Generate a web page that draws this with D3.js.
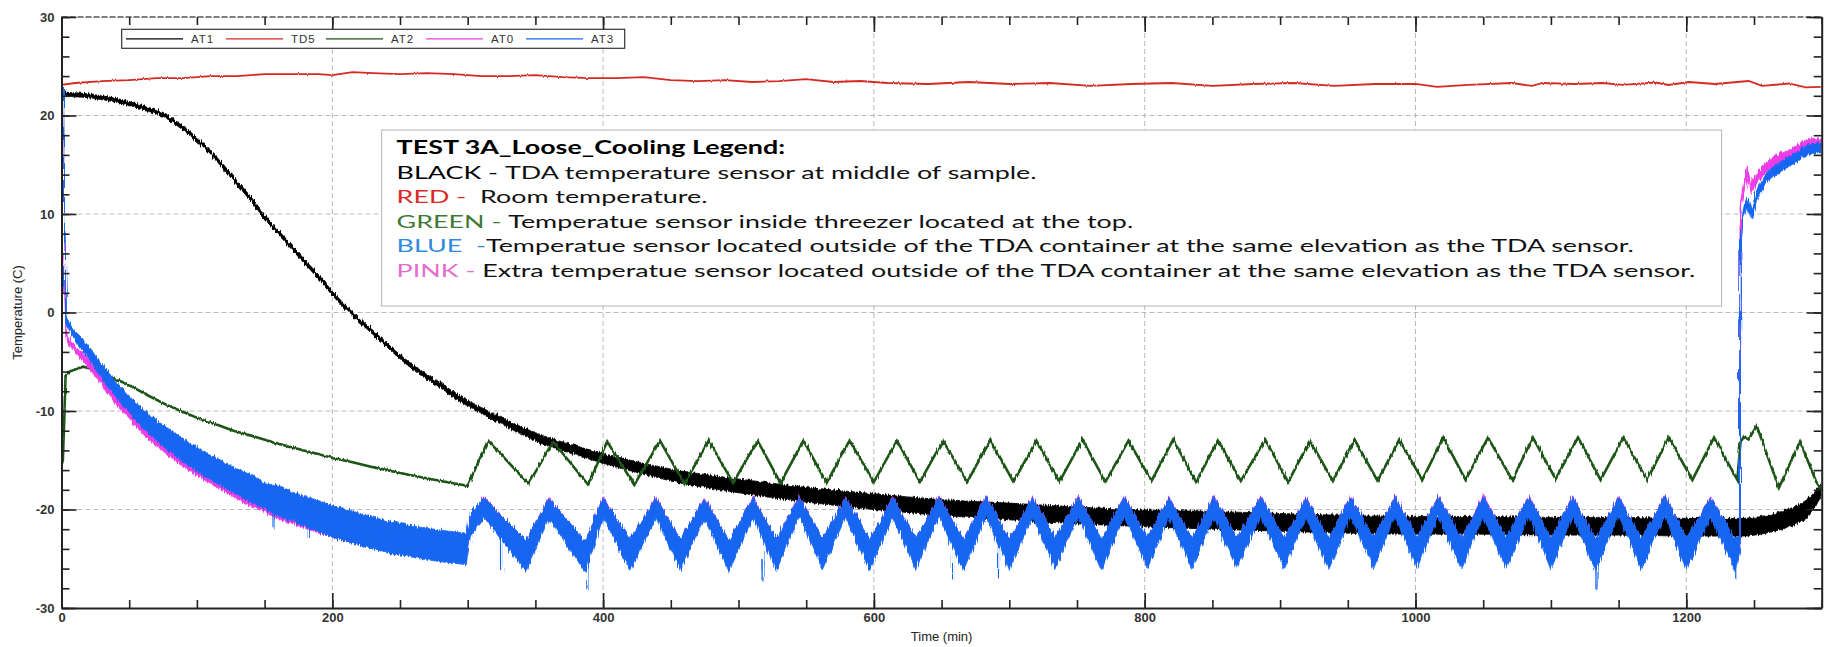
<!DOCTYPE html>
<html>
<head>
<meta charset="utf-8">
<script src="https://cdn.jsdelivr.net/npm/d3@7"></script>
<style>
  html, body { margin: 0; padding: 0; background: #fff; }
  svg { display: block; }
  .tick text { font-family: "Liberation Sans", Arial, sans-serif; }
</style>
</head>
<body>
<svg id="chart" width="1837" height="647"></svg>
<script>
// ---- data ----
const timeDomain = [0, 1300];
const tempDomain = [-30, 30];
const xTickValues = [0, 200, 400, 600, 800, 1000, 1200];
const xTickLabels = ['0', '200', '400', '600', '800', '1000', '1200'];
const yTickValues = [-30, -20, -10, 0, 10, 20, 30];
const yTickLabels = ['-30', '-20', '-10', '0', '10', '20', '30'];
const xTitle = 'Time (min)';
const yTitle = 'Temperature (C)';

const legendNames = ['AT1', 'TD5', 'AT2', 'AT0', 'AT3'];

const noteTitle = 'TEST 3A_Loose_Cooling Legend:';
const noteKeys = ['BLACK - ', 'RED -  ', 'GREEN - ', 'BLUE  -', 'PINK - '];
const noteTexts = [
  'TDA temperature sensor at middle of sample.',
  'Room temperature.',
  'Temperatue sensor inside threezer located at the top.',
  'Temperatue sensor located outside of the TDA container at the same elevation as the TDA sensor.',
  'Extra temperatue sensor located outside of the TDA container at the same elevation as the TDA sensor.'
];

// [time (min), temperature (C), half width of the noise band (C)]
const at1 = [
  [0, 22.2, 0.2], [10, 22.1, 0.2], [20, 22.0, 0.2], [30, 21.8, 0.2], [42, 21.5, 0.2], [53, 21.1, 0.2],
  [65, 20.6, 0.2], [78, 19.8, 0.2], [90, 18.7, 0.2], [102, 17.3, 0.2], [115, 15.5, 0.2], [127, 13.6, 0.2],
  [140, 11.5, 0.2], [152, 9.4, 0.2], [165, 7.4, 0.2], [176, 5.7, 0.2], [190, 3.6, 0.2], [201, 1.8, 0.2],
  [213, 0.1, 0.2], [225, -1.4, 0.2], [238, -3.0, 0.2], [250, -4.5, 0.2], [262, -5.8, 0.25], [275, -7.0, 0.25],
  [288, -8.2, 0.3], [300, -9.2, 0.3], [325, -11.0, 0.35], [350, -12.6, 0.4], [375, -13.8, 0.45], [400, -14.8, 0.5],
  [425, -15.7, 0.55], [450, -16.5, 0.6], [475, -17.1, 0.65], [500, -17.6, 0.7], [550, -18.5, 0.75], [600, -19.2, 0.8],
  [650, -19.8, 0.8], [700, -20.2, 0.85], [750, -20.6, 0.85], [800, -20.9, 0.85], [850, -21.1, 0.9], [900, -21.3, 0.9],
  [950, -21.5, 0.9], [1000, -21.6, 0.9], [1050, -21.6, 0.9], [1100, -21.7, 0.9], [1150, -21.7, 0.9], [1200, -21.8, 0.9],
  [1240, -21.8, 0.9], [1255, -21.6, 0.9], [1265, -21.3, 0.9], [1275, -20.9, 0.9], [1283, -20.4, 0.9], [1290, -19.8, 0.9],
  [1295, -19.0, 0.8], [1300, -17.9, 0.6]
];

const td5 = [
  [0, 23.1], [10, 23.3], [30, 23.5], [50, 23.6], [70, 23.8], [90, 23.8], [110, 24.0], [130, 24.0], [150, 24.2],
  [170, 24.2], [190, 24.2], [200, 24.1], [215, 24.4], [230, 24.3], [250, 24.2], [270, 24.3], [290, 24.2],
  [310, 24.0], [330, 24.0], [350, 24.1], [370, 23.9], [390, 23.8], [410, 23.8], [430, 23.9], [450, 23.6],
  [470, 23.5], [490, 23.6], [510, 23.4], [530, 23.5], [550, 23.7], [570, 23.4], [590, 23.5], [610, 23.3],
  [640, 23.2], [670, 23.4], [700, 23.2], [730, 23.3], [760, 23.0], [790, 23.2], [820, 23.3], [850, 23.0],
  [880, 23.2], [910, 23.3], [940, 23.0], [970, 23.2], [1000, 23.2], [1016, 22.9], [1039, 23.1], [1071, 23.3],
  [1086, 23.0], [1094, 23.3], [1118, 23.2], [1138, 23.3], [1153, 23.1], [1177, 23.35], [1187, 23.1], [1202, 23.4],
  [1221, 23.2], [1246, 23.5], [1256, 23.0], [1276, 23.25], [1288, 22.85], [1300, 22.9]
];

const at2 = [
  [0, -15.5], [1, -15.0], [2, -11.0], [3, -6.4], [6, -6.0], [10, -5.8], [16, -5.5], [22, -5.7], [30, -6.2],
  [40, -6.8], [53, -7.6], [65, -8.5], [78, -9.4], [90, -10.1], [102, -10.8], [115, -11.4], [127, -12.0],
  [140, -12.5], [152, -13.0], [165, -13.5], [176, -13.9], [190, -14.4], [201, -14.8], [215, -15.2], [230, -15.7],
  [250, -16.3], [265, -16.7], [280, -17.1], [300, -17.6], [315, -13.0], [345, -17.4], [363, -13.1], [389, -17.5],
  [403, -13.1], [423, -17.5], [442, -13.0], [460, -17.4], [478, -13.0], [496, -17.3], [514, -13.0], [531, -17.3],
  [548, -13.0], [565, -17.3], [582, -13.0], [600, -17.2], [617, -13.0], [634, -17.2], [651, -13.0], [669, -17.2],
  [686, -12.9], [703, -17.2], [720, -13.0], [737, -17.2], [754, -12.9], [771, -17.2], [788, -13.0], [805, -17.1],
  [821, -12.9], [838, -17.2], [854, -13.0], [871, -17.1], [889, -12.9], [906, -17.2], [922, -13.0], [939, -17.1],
  [955, -12.9], [972, -17.1], [988, -12.9], [1005, -17.0], [1020.5, -12.7], [1037, -17.0], [1053.5, -12.7],
  [1071.5, -17.0], [1086.7, -12.7], [1103.5, -16.9], [1120, -12.7], [1136.7, -17.0], [1153.5, -12.7], [1171, -17.0],
  [1187, -12.7], [1204.5, -17.0], [1220.5, -12.7], [1237.7, -17.0], [1240, -13.2], [1242.5, -12.6], [1246, -12.9],
  [1252, -11.5], [1268.4, -17.8], [1284, -13.1], [1296, -17.2], [1300, -18.0]
];

const at0 = [
  [0, 22.8, 0], [1.2, 22.8, 0], [2, 6.0, 0.3], [3.5, -2.4, 0.3], [6, -3.2, 0.3], [10, -3.8, 0.3], [16, -4.5, 0.4],
  [28, -6.6, 0.4], [40, -8.8, 0.5], [53, -10.8, 0.5], [65, -12.4, 0.6], [78, -13.8, 0.6], [90, -15.0, 0.7],
  [102, -16.0, 0.7], [115, -17.0, 0.8], [127, -17.9, 0.8], [140, -18.8, 0.9], [152, -19.5, 0.9], [165, -20.2, 1.0],
  [176, -20.7, 1.0], [190, -21.3, 1.1], [200, -21.7, 1.1], [215, -22.2, 1.2], [230, -22.7, 1.2], [250, -23.2, 1.2],
  [265, -23.5, 1.2], [280, -23.8, 1.2], [299, -24.1, 1.2], [302, -21.4, 0.9],
  [312, -19.4, 0.7], [343, -24.5, 1.3], [360, -19.5, 0.7], [387, -24.6, 1.3], [400, -19.4, 0.7], [420, -24.4, 1.3],
  [439, -19.4, 0.7], [457, -24.4, 1.3], [475, -19.5, 0.7], [493, -24.5, 1.3], [511, -19.4, 0.7], [528, -24.4, 1.3],
  [545, -19.3, 0.7], [562, -24.3, 1.3], [579, -19.4, 0.7], [597, -24.4, 1.3], [614, -19.4, 0.7], [631, -24.3, 1.3],
  [648, -19.3, 0.7], [666, -24.4, 1.3], [683, -19.3, 0.7], [700, -24.4, 1.3], [717, -19.4, 0.7], [734, -24.2, 1.3],
  [751, -19.3, 0.7], [768, -24.4, 1.3], [785, -19.3, 0.7], [802, -24.2, 1.3], [818, -19.4, 0.7], [835, -24.3, 1.3],
  [851, -19.3, 0.7], [868, -24.2, 1.3], [886, -19.3, 0.7], [903, -24.3, 1.3], [919, -19.4, 0.7], [936, -24.3, 1.3],
  [952, -19.3, 0.7], [969, -24.2, 1.3], [985, -19.3, 0.7], [1001, -24.2, 1.3], [1017, -19.3, 0.7], [1034, -24.3, 1.3],
  [1050, -19.2, 0.7], [1067, -24.2, 1.3], [1084, -19.3, 0.7], [1100, -24.3, 1.3], [1116, -19.3, 0.7], [1133, -24.4, 1.3],
  [1150, -19.3, 0.7], [1167, -24.3, 1.3], [1184, -19.2, 0.7], [1200, -24.3, 1.3], [1218, -19.4, 0.7], [1236, -24.4, 1.3],
  [1239.5, -23.4, 0.8], [1240, 10.7, 0.3], [1242, 12.5, 0.5], [1245, 14.3, 0.5], [1248, 12.4, 0.5], [1252, 13.6, 0.5],
  [1256, 14.4, 0.5], [1265, 15.4, 0.5], [1272, 15.8, 0.5], [1280, 16.3, 0.5], [1286, 16.8, 0.5], [1292, 17.2, 0.5],
  [1300, 17.1, 0.5]
];

const at3 = [
  [0, 22.8, 0], [1.2, 22.8, 0], [2, 10.0, 0.3], [3.5, -0.5, 0.4], [5, -1.2, 0.4], [10, -2.4, 0.5], [16, -3.3, 0.6],
  [28, -5.6, 0.7], [40, -7.8, 0.8], [53, -9.8, 0.9], [65, -11.4, 1.0], [78, -12.8, 1.1], [90, -14.0, 1.2],
  [102, -15.1, 1.2], [115, -16.1, 1.3], [127, -17.0, 1.3], [140, -17.9, 1.4], [152, -18.7, 1.4], [165, -19.4, 1.5],
  [176, -20.0, 1.5], [190, -20.7, 1.6], [200, -21.2, 1.6], [215, -21.8, 1.6], [230, -22.4, 1.6], [250, -23.0, 1.6],
  [265, -23.4, 1.6], [280, -23.7, 1.6], [299, -24.0, 1.6], [302, -21.5, 1.2],
  [312, -19.8, 1.0], [343, -24.7, 1.6], [360, -19.9, 1.0], [387, -24.8, 1.6], [400, -19.8, 1.0], [420, -24.6, 1.6],
  [439, -19.8, 1.0], [457, -24.6, 1.6], [475, -19.9, 1.0], [493, -24.7, 1.6], [511, -19.8, 1.0], [528, -24.6, 1.6],
  [545, -19.7, 1.0], [562, -24.5, 1.6], [579, -19.8, 1.0], [597, -24.6, 1.6], [614, -19.8, 1.0], [631, -24.5, 1.6],
  [648, -19.7, 1.0], [666, -24.6, 1.6], [683, -19.7, 1.0], [700, -24.6, 1.6], [717, -19.8, 1.0], [734, -24.4, 1.6],
  [751, -19.7, 1.0], [768, -24.6, 1.6], [785, -19.7, 1.0], [802, -24.4, 1.6], [818, -19.8, 1.0], [835, -24.5, 1.6],
  [851, -19.7, 1.0], [868, -24.4, 1.6], [886, -19.7, 1.0], [903, -24.5, 1.6], [919, -19.8, 1.0], [936, -24.5, 1.6],
  [952, -19.7, 1.0], [969, -24.4, 1.6], [985, -19.7, 1.0], [1001, -24.4, 1.6], [1017, -19.7, 1.0], [1034, -24.5, 1.6],
  [1050, -19.7, 1.0], [1067, -24.4, 1.6], [1084, -19.7, 1.0], [1100, -24.5, 1.6], [1116, -19.7, 1.0], [1133, -24.6, 1.6],
  [1150, -19.7, 1.0], [1167, -24.5, 1.6], [1184, -19.6, 1.0], [1200, -24.5, 1.6], [1218, -19.8, 1.0], [1236, -24.6, 1.6],
  [1239.5, -23.5, 0.8], [1240, 6.7, 0.3], [1242, 10.1, 0.4], [1245, 11.2, 0.5], [1248, 10.0, 0.5], [1252, 11.8, 0.5],
  [1257, 13.3, 0.5], [1263, 14.2, 0.5], [1269, 14.7, 0.5], [1275, 15.3, 0.5], [1281, 15.7, 0.5], [1289, 16.5, 0.5],
  [1295, 16.7, 0.5], [1300, 16.7, 0.5]
];

// single downward spikes of AT3: [time, band edge, spike tip]
const at3Spikes = [
  [157, -19.8, -21.8], [183, -21.2, -22.9], [325, -23.0, -26.2], [388, -25.5, -28.1], [494, -25.4, -27.3],
  [518, -24.2, -27.2], [658, -24.4, -27.1], [692, -23.6, -27.0], [1134, -25.4, -28.0], [1236.5, -25.5, -27.0]
];

// ---- layout ----
const plot = { left: 61.5, right: 1821.7, top: 17, bottom: 608 };
const colors = { AT1: '#000000', TD5: '#d42a24', AT2: '#1d5519', AT0: '#ee3ee6', AT3: '#1766f2' };
const noteColors = ['#000000', '#d92a25', '#3f7a35', '#2f8be0', '#e66ccd'];
const fontAxis = '"Liberation Sans", Arial, sans-serif';

const svg = d3.select('#chart');
const x = d3.scaleLinear().domain(timeDomain).range([plot.left, plot.right]);
const y = d3.scaleLinear().domain(tempDomain).range([plot.bottom, plot.top]);

const defs = svg.append('defs');
defs.append('clipPath').attr('id', 'clip')
  .append('rect').attr('x', plot.left).attr('y', plot.top)
  .attr('width', plot.right - plot.left).attr('height', plot.bottom - plot.top);

function jagFilter(id, scale, seed) {
  const f = defs.append('filter').attr('id', id)
    .attr('x', '-1%').attr('y', '-5%').attr('width', '102%').attr('height', '110%');
  f.append('feTurbulence').attr('type', 'fractalNoise').attr('baseFrequency', '0.7 0.03')
    .attr('numOctaves', 2).attr('seed', seed).attr('result', 'n');
  f.append('feDisplacementMap').attr('in', 'SourceGraphic').attr('in2', 'n')
    .attr('scale', scale).attr('xChannelSelector', 'R').attr('yChannelSelector', 'G');
}
jagFilter('jagBlue', 6, 3);
jagFilter('jagBlack', 5, 7);
jagFilter('jagGreen', 3, 11);
jagFilter('jagRed', 2, 5);

// grid
const grid = svg.append('g');
grid.selectAll('.gy').data(yTickValues.filter(v => v > -30 && v < 30)).join('line')
  .attr('x1', plot.left).attr('x2', plot.right)
  .attr('y1', d => y(d)).attr('y2', d => y(d))
  .attr('stroke', '#b9b9b9').attr('stroke-width', 1).attr('stroke-dasharray', '5,3');
grid.selectAll('.gx').data(xTickValues.filter(v => v > 0)).join('line')
  .attr('x1', d => x(d)).attr('x2', d => x(d))
  .attr('y1', plot.top).attr('y2', plot.bottom)
  .attr('stroke', '#b9b9b9').attr('stroke-width', 1).attr('stroke-dasharray', '5,3');
grid.append('line')
  .attr('x1', plot.left).attr('x2', plot.right).attr('y1', y(30)).attr('y2', y(30))
  .attr('stroke', '#555').attr('stroke-width', 1.5).attr('stroke-dasharray', '6,2');

// text box with the description of the colours
const note = svg.append('g');
note.append('rect').attr('x', 381.6).attr('y', 130).attr('width', 1340).attr('height', 176)
  .attr('fill', '#fff').attr('stroke', '#b4b4b4').attr('stroke-width', 1);

const noteFont = 'Lato, "Open Sans", sans-serif';
const noteRows = [[noteTitle, null]].concat(noteKeys.map((k, i) => [k, noteTexts[i]]));
// the reference text is horizontally stretched, so the rows are scaled in x only
const noteBody = note.append('g');
const noteText = noteBody.selectAll('text').data(noteRows).join('text')
  .attr('x', 0).attr('y', (d, i) => 154 + i * 24.6)
  .attr('font-family', noteFont).attr('font-size', 18)
  .style('white-space', 'pre');
noteText.each(function (d, i) {
  const t = d3.select(this);
  if (i === 0) {
    t.append('tspan').attr('font-weight', 'bold').attr('fill', '#000').text(d[0]);
  } else {
    t.append('tspan').attr('fill', noteColors[i - 1]).text(d[0]);
    t.append('tspan').attr('fill', '#111').text(d[1]);
  }
});
const blueRowWidth = noteText.filter((d, i) => i === 4).node().getComputedTextLength();
noteBody.attr('transform', `translate(396.6,0) scale(${1236 / blueRowWidth},1)`);

// series
const plotArea = svg.append('g').attr('clip-path', 'url(#clip)');
const band = d3.area().x(d => x(d[0])).y0(d => y(d[1] - d[2])).y1(d => y(d[1] + d[2]));
const mid = d3.line().x(d => x(d[0])).y(d => y(d[1]));

function drawBand(points, color, filter, width, curve) {
  const g = plotArea.append('g').attr('filter', filter ? `url(#${filter})` : null);
  g.append('path').datum(points).attr('d', band.curve(curve || d3.curveLinear))
    .attr('fill', color).attr('stroke', color).attr('stroke-width', 0.8);
  g.append('path').datum(points).attr('d', mid.curve(curve || d3.curveLinear))
    .attr('fill', 'none').attr('stroke', color).attr('stroke-width', width);
  return g;
}

drawBand(at1, colors.AT1, 'jagBlack', 3, d3.curveMonotoneX);
plotArea.append('g').attr('filter', 'url(#jagRed)')
  .append('path').datum(td5).attr('d', mid.curve(d3.curveLinear)).attr('fill', 'none')
  .attr('stroke', colors.TD5).attr('stroke-width', 1.8);
plotArea.append('g').attr('filter', 'url(#jagGreen)')
  .append('path').datum(at2).attr('d', mid.curve(d3.curveLinear)).attr('fill', 'none')
  .attr('stroke', colors.AT2).attr('stroke-width', 2.6);
drawBand(at0, colors.AT0, 'jagBlue', 1.6);
const blueG = drawBand(at3, colors.AT3, 'jagBlue', 1.8);
blueG.selectAll('.spike').data(at3Spikes).join('line')
  .attr('x1', d => x(d[0])).attr('x2', d => x(d[0]))
  .attr('y1', d => y(d[1])).attr('y2', d => y(d[2]))
  .attr('stroke', colors.AT3).attr('stroke-width', 1.3);

// axes
function styleAxis(g) {
  g.select('.domain').attr('stroke', '#222').attr('stroke-width', 2);
  g.selectAll('.tick line').attr('stroke', '#222').attr('stroke-width', 1.6);
  g.selectAll('.tick text').attr('font-size', 13).attr('font-weight', 'bold').attr('fill', '#333')
    .attr('font-family', fontAxis);
}
const xMinor = d3.range(0, 1301, 50);
const yMinor = d3.range(-30, 31, 2);

svg.append('g').attr('transform', `translate(0,${plot.bottom})`)
  .call(d3.axisBottom(x).tickValues(xMinor).tickSizeInner(-8).tickSizeOuter(0).tickFormat(''))
  .call(g => g.select('.domain').remove())
  .call(styleAxis);
svg.append('g').attr('transform', `translate(0,${plot.bottom})`)
  .call(d3.axisBottom(x).tickValues(xTickValues).tickSizeInner(-15).tickSizeOuter(0).tickPadding(5)
    .tickFormat((d, i) => xTickLabels[i]))
  .call(styleAxis);
svg.append('g').attr('transform', `translate(0,${plot.top})`)
  .call(d3.axisTop(x).tickValues(xMinor).tickSizeInner(-8).tickSizeOuter(0).tickFormat(''))
  .call(g => g.select('.domain').remove())
  .call(styleAxis);
svg.append('g').attr('transform', `translate(0,${plot.top})`)
  .call(d3.axisTop(x).tickValues(xTickValues).tickSizeInner(-15).tickSizeOuter(0).tickFormat(''))
  .call(g => g.select('.domain').remove())
  .call(styleAxis);

svg.append('g').attr('transform', `translate(${plot.left},0)`)
  .call(d3.axisLeft(y).tickValues(yMinor).tickSizeInner(-8).tickSizeOuter(0).tickFormat(''))
  .call(g => g.select('.domain').remove())
  .call(styleAxis);
svg.append('g').attr('transform', `translate(${plot.left},0)`)
  .call(d3.axisLeft(y).tickValues(yTickValues).tickSizeInner(-15).tickSizeOuter(0).tickPadding(7)
    .tickFormat((d, i) => yTickLabels[i]))
  .call(styleAxis);
svg.append('g').attr('transform', `translate(${plot.right},0)`)
  .call(d3.axisRight(y).tickValues(yMinor).tickSizeInner(-8).tickSizeOuter(0).tickFormat(''))
  .call(g => g.select('.domain').remove())
  .call(styleAxis);
svg.append('g').attr('transform', `translate(${plot.right},0)`)
  .call(d3.axisRight(y).tickValues(yTickValues).tickSizeInner(-15).tickSizeOuter(0).tickFormat(''))
  .call(styleAxis);

// axis titles
svg.append('text').attr('x', (plot.left + plot.right) / 2).attr('y', 641)
  .attr('text-anchor', 'middle').attr('font-family', fontAxis).attr('font-size', 13)
  .attr('fill', '#222').text(xTitle);
svg.append('text').attr('transform', `translate(22,${y(0)}) rotate(-90)`)
  .attr('text-anchor', 'middle').attr('font-family', fontAxis).attr('font-size', 13)
  .attr('fill', '#222').text(yTitle);

// legend strip at the top
const legend = svg.append('g');
legend.append('rect').attr('x', 121.7).attr('y', 29.3).attr('width', 503).attr('height', 19)
  .attr('fill', '#fff').attr('stroke', '#333').attr('stroke-width', 1.2);
const item = legend.selectAll('.item').data(legendNames).join('g')
  .attr('transform', (d, i) => `translate(${126 + i * 100},38.8)`);
item.append('line').attr('x1', 0).attr('x2', 57).attr('y1', 0).attr('y2', 0)
  .attr('stroke', d => colors[d]).attr('stroke-width', 1.3);
item.append('text').attr('x', 65).attr('y', 4).attr('font-family', fontAxis)
  .attr('font-size', 11.5).attr('letter-spacing', 1).attr('fill', '#333').text(d => d);
</script>
</body>
</html>
